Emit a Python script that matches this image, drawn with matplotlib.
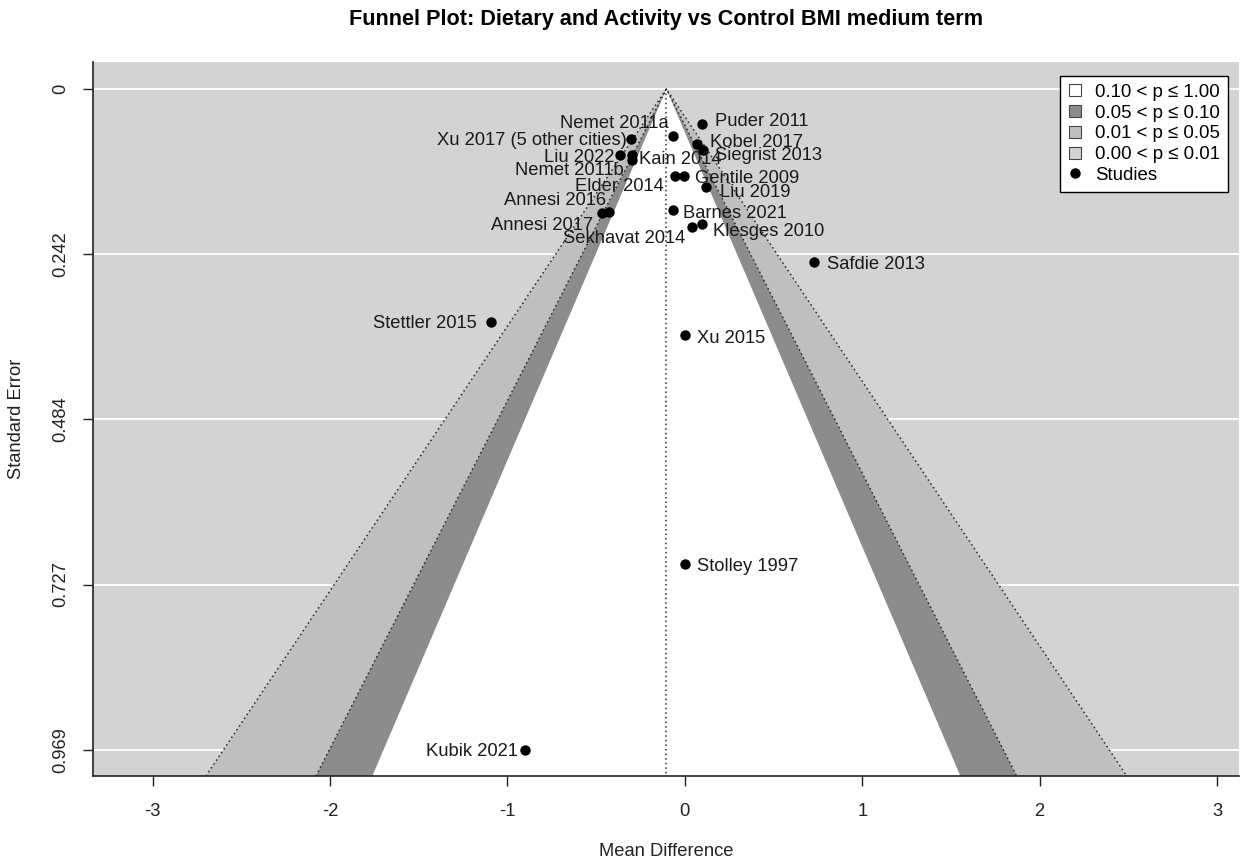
import matplotlib
matplotlib.use("Agg")
import matplotlib.pyplot as plt
from matplotlib.lines import Line2D

plt.rcParams['font.family'] = ['Liberation Sans', 'DejaVu Sans']

# ---------------- data ----------------
studies = ["Puder 2011", "Nemet 2011a", "Xu 2017 (5 other cities)", "Kobel 2017",
           "Siegrist 2013", "Liu 2022", "Kain 2014", "Nemet 2011b", "Elder 2014",
           "Gentile 2009", "Liu 2019", "Annesi 2017", "Annesi 2016", "Barnes 2021",
           "Sekhavat 2014", "Klesges 2010", "Safdie 2013", "Stettler 2015", "Xu 2015",
           "Stolley 1997", "Kubik 2021"]
mean_diff = [0.097, -0.068, -0.302, 0.069, 0.101, -0.365, -0.300, -0.300, -0.055,
             -0.007, 0.120, -0.468, -0.429, -0.069, 0.038, 0.097, 0.731, -1.095,
             0.002, 0.001, -0.898]
std_err = [0.052, 0.0685, 0.074, 0.081, 0.089, 0.097, 0.097, 0.104, 0.128, 0.128,
           0.143, 0.182, 0.181, 0.178, 0.202, 0.198, 0.253, 0.341, 0.361, 0.697, 0.969]
pooled_md = -0.104

contour_z = [1.6449, 1.9600, 2.5758]          # p = 0.10, 0.05, 0.01 (two-sided)
legend_labels = ["0.10 < p \u2264 1.00", "0.05 < p \u2264 0.10",
                 "0.01 < p \u2264 0.05", "0.00 < p \u2264 0.01"]
x_ticks = [-3, -2, -1, 0, 1, 2, 3]
y_ticks = [0, 0.24225, 0.4845, 0.72675, 0.969]
y_tick_labels = ["0", "0.242", "0.484", "0.727", "0.969"]

# ---------------- styles / layout ----------------
BG = '#D3D3D3'
shade = ['white', '#8C8C8C', '#BFBFBF']
legend_cols = ['white', '#8C8C8C', '#BFBFBF', BG]
# label placement: side, horizontal gap (px), vertical shift of text centre (px, +down)
label_place = {
    "Puder 2011": ('R', 13, -4.7), "Nemet 2011a": ('L', 4.4, -14),
    "Xu 2017 (5 other cities)": ('L', 4.4, -1.2), "Kobel 2017": ('R', 13, -4),
    "Siegrist 2013": ('R', 12.3, 3.8), "Liu 2022": ('L', 6, 0),
    "Kain 2014": ('R', 7.8, 2.5), "Nemet 2011b": ('L', 8.2, 9),
    "Elder 2014": ('L', 11, 8.5), "Gentile 2009": ('R', 11.5, 0.7),
    "Liu 2019": ('R', 14, 4.5), "Annesi 2017": ('L', 8.4, 11),
    "Annesi 2016": ('L', 2.7, -14), "Barnes 2021": ('R', 10.2, 1.2),
    "Sekhavat 2014": ('L', 6.5, 9.7), "Klesges 2010": ('R', 10.7, 6),
    "Safdie 2013": ('R', 13, 1), "Stettler 2015": ('L', 14, 0),
    "Xu 2015": ('R', 11.5, 1), "Stolley 1997": ('R', 12, 0),
    "Kubik 2021": ('L', 7.5, 0),
}

W, H = 1240, 866
PX = 0.72  # points per pixel at dpi 100
FS = 13.2

fig = plt.figure(figsize=(W / 100, H / 100), dpi=100)
Lp, Rp, Tp, Bp = 93, 1239, 62, 776
ax = fig.add_axes([Lp / W, 1 - Bp / H, (Rp - Lp) / W, (Bp - Tp) / H])
ax.set_facecolor(BG)
ax.set_xlim(-3.336, 3.124)
ax.set_ylim(1.0076, -0.0396)
ybot = ax.get_ylim()[0]

for yt in y_ticks:
    ax.axhline(yt, color='white', lw=1.3, zorder=0.5)

# contour regions (outer to inner)
for z, col in zip(contour_z[::-1], shade[::-1]):
    ax.fill([pooled_md, pooled_md - z * ybot, pooled_md + z * ybot], [0, ybot, ybot],
            color=col, lw=0, zorder=1)
for z in contour_z[1:]:
    ax.plot([pooled_md - z * ybot, pooled_md, pooled_md + z * ybot], [ybot, 0, ybot],
            color='#2a2a2a', lw=1.1, ls=(0, (1, 2)), zorder=2)
ax.plot([pooled_md, pooled_md], [0, ybot], color='#2a2a2a', lw=1.1, ls=(0, (1, 2)), zorder=2)

ax.scatter(mean_diff, std_err, s=56, color='black', lw=0, zorder=4)

cap_half = 6.4
for name, x, y in zip(studies, mean_diff, std_err):
    side, gap, dy = label_place[name]
    dx = gap if side == 'R' else -gap
    ax.annotate(name, (x, y), xytext=(dx * PX, -(dy + cap_half) * PX),
                textcoords='offset points', ha='left' if side == 'R' else 'right',
                va='baseline', fontsize=FS, color='#1a1a1a', zorder=5)

ax.set_xticks(x_ticks)
ax.set_xticklabels([str(t) for t in x_ticks])
ax.set_yticks(y_ticks)
ax.set_yticklabels(y_tick_labels, rotation=90, va='center')
ax.tick_params(axis='both', labelsize=FS, length=10 * PX, width=1, color='#222222',
               labelcolor='#222222')
ax.tick_params(axis='x', pad=17 * PX)
ax.tick_params(axis='y', pad=14 * PX)
for s in ['top', 'right']:
    ax.spines[s].set_visible(False)
for s in ['left', 'bottom']:
    ax.spines[s].set_linewidth(1.2)
    ax.spines[s].set_color('#222222')

ax.set_xlabel("Mean Difference", fontsize=FS, color='#222222')
ax.xaxis.set_label_coords(0.5, -(852 - Bp) / (Bp - Tp))
ax.xaxis.label.set_va('center')
ax.set_ylabel("Standard Error", fontsize=FS, color='#222222')
ax.yaxis.set_label_coords(-(Lp - 17) / (Rp - Lp), 0.5)
ax.yaxis.label.set_va('center')

fig.text((Lp + Rp) / 2 / W, 1 - 25 / H, "Funnel Plot: Dietary and Activity vs Control BMI medium term",
         ha='center', va='baseline', fontsize=13 * 1.2, fontweight='bold')

handles = [Line2D([], [], ls='none', marker='s', markersize=8.5,
                  markerfacecolor=c, markeredgecolor='#444444', markeredgewidth=0.8)
           for c in legend_cols]
handles.append(Line2D([], [], ls='none', marker='o', markersize=6.5,
                      markerfacecolor='black', markeredgecolor='black'))
leg = fig.legend(handles, legend_labels + ["Studies"], loc='upper right',
                 bbox_to_anchor=(1228 / W, 1 - 76 / H), bbox_transform=fig.transFigure,
                 fontsize=13.4, frameon=True, fancybox=False, framealpha=1,
                 edgecolor='black', borderaxespad=0, handlelength=0.75,
                 handletextpad=0.7, labelspacing=0.2, borderpad=0.42)
leg.get_frame().set_linewidth(1.0)

fig.savefig("out.png", dpi=100)
